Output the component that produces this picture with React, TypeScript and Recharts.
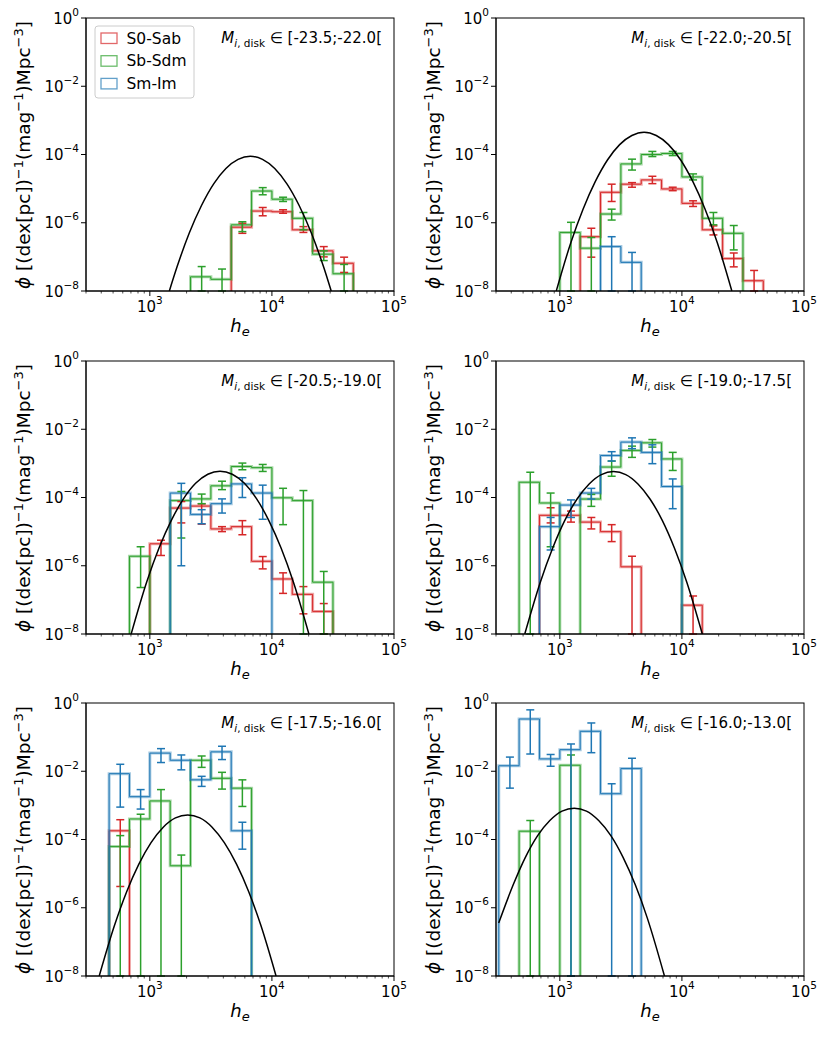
import React from 'react'
import { ComposedChart, Line, Scatter, ErrorBar, XAxis, YAxis } from 'recharts'

type Val = number | null
type Err = [number, number] | null

// bin edges, 1/6 dex wide
const EDGES = [316, 464, 681, 1000, 1468, 2154, 3162, 4642, 6813, 10000, 14678, 21544, 31623, 46416]
const X_MAJOR = [1000, 10000, 100000]
const X_MINOR = [
    300, 400, 500, 600, 700, 800, 900,
    2000, 3000, 4000, 5000, 6000, 7000, 8000, 9000,
    20000, 30000, 40000, 50000, 60000, 70000, 80000, 90000,
]
const Y_TICKS = [1e-8, 1e-6, 1e-4, 1e-2, 1]

const TYPES = ['S0-Sab', 'Sb-Sdm', 'Sm-Im']
const COLORS = ['#d62728', '#2ca02c', '#1f77b4']
const MAG_RANGES = ['[-23.5;-22.0[', '[-22.0;-20.5[', '[-20.5;-19.0[', '[-19.0;-17.5[', '[-17.5;-16.0[', '[-16.0;-13.0[']

const _ = null

// panel 1
const P1_RED: Val[] = [_, _, _, _, _, _, _, 7.4e-7, 2.2e-6, 2.1e-6, 6.2e-7, 1.5e-7, 6.5e-8]
const P1_RED_ERR: Err[] = [_, _, _, _, _, _, _, [4.9e-7, 9.7e-7], [1.6e-6, 2.8e-6], [1.9e-6, 2.4e-6], [5.2e-7, 7.7e-7], [1.0e-7, 2.0e-7], [3.5e-8, 9.8e-8]]
const P1_GREEN: Val[] = [_, _, _, _, _, 2.6e-8, 2.2e-8, 8.7e-7, 8.5e-6, 4.9e-6, 1.35e-6, 1.2e-7, 3.2e-8]
const P1_GREEN_ERR: Err[] = [_, _, _, _, _, [0, 5.2e-8], [0, 4.4e-8], [5.5e-7, 1.07e-6], [6.6e-6, 1.07e-5], [4.2e-6, 5.6e-6], [6.2e-7, 2.0e-6], [7.8e-8, 1.5e-7], [0, 6.0e-8]]
const P1_BLUE: Val[] = [_, _, _, _, _, _, _, _, _, _, _, _, _]
const P1_BLUE_ERR: Err[] = [_, _, _, _, _, _, _, _, _, _, _, _, _]
const P1_CURVE_H = [1445, 1671, 2104, 2649, 3334, 4198, 5284, 6653, 8375, 10544, 13274, 16711, 21038, 26485, 30590]
const P1_CURVE_PHI = [1e-8, 5.1e-8, 5.0e-7, 3.2e-6, 1.38e-5, 3.9e-5, 7.2e-5, 8.9e-5, 7.2e-5, 3.9e-5, 1.38e-5, 3.2e-6, 5.0e-7, 5.1e-8, 1e-8]

// panel 2
const P2_RED: Val[] = [_, _, _, _, 3.9e-7, 7.8e-6, 1.35e-5, 1.8e-5, 9.8e-6, 3.7e-6, 6.2e-7, 8.9e-8, 2e-8]
const P2_RED_ERR: Err[] = [_, _, _, _, [9.8e-8, 6.9e-7], [4.2e-6, 1.35e-5], [1.1e-5, 1.5e-5], [1.4e-5, 2.3e-5], [8.7e-6, 1.1e-5], [3.0e-6, 4.4e-6], [4.4e-7, 8.1e-7], [5.1e-8, 1.3e-7], [0, 4.0e-8]]
const P2_GREEN: Val[] = [_, _, _, 5.2e-7, 1.8e-7, 1.8e-6, 5.3e-5, 1.0e-4, 1.07e-4, 2.2e-5, 1.35e-6, 4.9e-7, _]
const P2_GREEN_ERR: Err[] = [_, _, _, [0, 1.03e-6], [0, 3.7e-7], [1.2e-6, 2.5e-6], [3.5e-5, 7.3e-5], [8.7e-5, 1.23e-4], [9.3e-5, 1.23e-4], [1.8e-5, 2.7e-5], [8.7e-7, 2.0e-6], [1.6e-7, 8.3e-7], _]
const P2_BLUE: Val[] = [_, _, _, _, _, 2e-7, 6.9e-8, _, _, _, _, _, _]
const P2_BLUE_ERR: Err[] = [_, _, _, _, _, [0, 3.9e-7], [0, 1.35e-7], _, _, _, _, _, _]
const P2_CURVE_H = [935, 1230, 1549, 1950, 2455, 3090, 3890, 4898, 6166, 7762, 9772, 12303, 15488, 19498, 25645]
const P2_CURVE_PHI = [1e-8, 2.6e-7, 2.5e-6, 1.6e-5, 6.9e-5, 1.95e-4, 3.6e-4, 4.5e-4, 3.6e-4, 1.95e-4, 6.9e-5, 1.6e-5, 2.5e-6, 2.6e-7, 1e-8]

// panel 3
const P3_RED: Val[] = [_, _, _, 4.4e-6, 4.9e-5, 5.6e-5, 1.2e-5, 1.4e-5, 1.35e-6, 4.1e-7, 1.45e-7, 4.6e-8, _]
const P3_RED_ERR: Err[] = [_, _, _, [2e-6, 5.6e-6], [1.8e-5, 7.6e-5], [1.66e-5, 6.5e-5], [1.0e-5, 1.4e-5], [8.1e-6, 2.1e-5], [8.1e-7, 1.86e-6], [1.55e-7, 6.2e-7], [3.9e-8, 2.45e-7], [0, 7.8e-8], _]
const P3_GREEN: Val[] = [_, _, 1.9e-6, _, 8.1e-5, 9.1e-5, 2.2e-4, 8.1e-4, 7.5e-4, 9.8e-5, 8.1e-5, 3.3e-7, _]
const P3_GREEN_ERR: Err[] = [_, _, [2.3e-7, 3.6e-6], _, [6.5e-6, 1.5e-4], [6.6e-5, 1.26e-4], [1.7e-4, 3.0e-4], [6.5e-4, 1.02e-3], [5.8e-4, 9.3e-4], [1.6e-5, 1.86e-4], [0, 1.6e-4], [0, 6.8e-7], _]
const P3_BLUE: Val[] = [_, _, _, _, 1.35e-4, 3.2e-5, 6.6e-5, 2.5e-4, 1.35e-4, _, _, _, _]
const P3_BLUE_ERR: Err[] = [_, _, _, _, [1.0e-6, 2.6e-4], [1.7e-5, 4.4e-5], [3.5e-5, 9.1e-5], [1.0e-4, 3.8e-4], [2.3e-5, 2.3e-4], _, _, _, _]
const P3_CURVE_H = [703, 944, 1189, 1496, 1884, 2371, 2985, 3758, 4732, 5957, 7499, 9441, 11885, 14962, 20090]
const P3_CURVE_PHI = [1e-8, 3.4e-7, 3.3e-6, 2.1e-5, 9.1e-5, 2.6e-4, 4.8e-4, 5.9e-4, 4.8e-4, 2.6e-4, 9.1e-5, 2.1e-5, 3.3e-6, 3.4e-7, 1e-8]

// panel 4
const P4_RED: Val[] = [_, _, 3e-5, 3e-5, 1.9e-5, 1.0e-5, 9.3e-7, _, _, 7e-8, _, _, _]
const P4_RED_ERR: Err[] = [_, _, [1.8e-5, 5e-5], [1.9e-5, 4e-5], [1.2e-5, 2.6e-5], [5.1e-6, 1.6e-5], [0, 1.9e-6], _, _, [0, 1.3e-7], _, _, _]
const P4_GREEN: Val[] = [_, 2.8e-4, 6.9e-5, _, 9e-5, 7.8e-4, 2.4e-3, 4e-3, 1.35e-3, _, _, _, _]
const P4_GREEN_ERR: Err[] = [_, [0, 5.5e-4], [3.6e-6, 1.35e-4], _, [5.5e-5, 1.23e-4], [4.2e-4, 1.17e-3], [1.5e-3, 3.2e-3], [3.0e-3, 5.0e-3], [6.2e-4, 2.1e-3], _, _, _, _]
const P4_BLUE: Val[] = [_, _, 1.4e-5, 6e-5, 1.35e-4, 1.7e-3, 4.2e-3, 2.1e-3, 2.1e-4, _, _, _, _]
const P4_BLUE_ERR: Err[] = [_, _, [2.9e-6, 2.6e-5], [2.6e-5, 8.5e-5], [9e-5, 1.85e-4], [1.17e-3, 2.2e-3], [2.7e-3, 5.6e-3], [9.8e-4, 3.5e-3], [4.7e-5, 3.5e-4], _, _, _, _]
const P4_CURVE_H = [516, 692, 871, 1096, 1380, 1738, 2188, 2754, 3467, 4365, 5495, 6918, 8710, 10965, 14690]
const P4_CURVE_PHI = [1e-8, 3.3e-7, 3.2e-6, 2.1e-5, 8.9e-5, 2.5e-4, 4.7e-4, 5.75e-4, 4.7e-4, 2.5e-4, 8.9e-5, 2.1e-5, 3.2e-6, 3.3e-7, 1e-8]

// panel 5
const P5_RED: Val[] = [_, 1.8e-4, _, _, _, _, _, _, _, _, _, _, _]
const P5_RED_ERR: Err[] = [_, [4.2e-6, 3.8e-4], _, _, _, _, _, _, _, _, _, _, _]
const P5_GREEN: Val[] = [_, 6.2e-5, 4e-4, 1.35e-3, 1.7e-5, 2.1e-2, 6.2e-3, 3.2e-3, _, _, _, _, _]
const P5_GREEN_ERR: Err[] = [_, [0, 1.3e-4], [0, 5.5e-4], [0, 2.9e-3], [0, 3.5e-5], [1.3e-2, 2.8e-2], [3e-3, 9.3e-3], [9.3e-4, 5.6e-3], _, _, _, _, _]
const P5_BLUE: Val[] = [_, 8.5e-3, 1.8e-3, 3.4e-2, 2.1e-2, 5.6e-3, 3.7e-2, 1.8e-4, _, _, _, _, _]
const P5_BLUE_ERR: Err[] = [_, [8.9e-4, 1.6e-2], [7.8e-4, 2.9e-3], [1.8e-2, 4.6e-2], [1.1e-2, 3.0e-2], [3.6e-3, 7.1e-3], [2.2e-2, 5.4e-2], [5.2e-5, 3.2e-4], _, _, _, _, _]
const P5_CURVE_H = [385, 513, 646, 813, 1023, 1288, 1622, 2042, 2570, 3236, 4074, 5129, 6457, 8128, 10810]
const P5_CURVE_PHI = [1e-8, 3.0e-7, 2.95e-6, 1.9e-5, 8.1e-5, 2.3e-4, 4.3e-4, 5.25e-4, 4.3e-4, 2.3e-4, 8.1e-5, 1.9e-5, 2.95e-6, 3.0e-7, 1e-8]

// panel 6
const P6_RED: Val[] = [_, _, _, _, _, _, _, _, _, _, _, _, _]
const P6_RED_ERR: Err[] = [_, _, _, _, _, _, _, _, _, _, _, _, _]
const P6_GREEN: Val[] = [_, 1.75e-4, _, 1.5e-2, _, _, _, _, _, _, _, _, _]
const P6_GREEN_ERR: Err[] = [_, [0, 3.6e-4], _, [0, 3.0e-2], _, _, _, _, _, _, _, _, _]
const P6_BLUE: Val[] = [1.45e-2, 0.34, 2.3e-2, 4.3e-2, 0.148, 2.2e-3, 1.2e-2, _, _, _, _, _, _]
const P6_BLUE_ERR: Err[] = [[3.2e-3, 2.6e-2], [3.2e-2, 0.63], [1.4e-2, 3.1e-2], [0, 6.3e-2], [3.5e-2, 0.26], [0, 4.3e-3], [0, 2.4e-2], _, _, _, _, _, _]
const P6_CURVE_H = [316, 415, 522, 658, 828, 1042, 1312, 1652, 2080, 2618, 3296, 4150, 5224, 7194]
const P6_CURVE_PHI = [3.6e-7, 4.7e-6, 3.0e-5, 1.3e-4, 3.6e-4, 6.8e-4, 8.3e-4, 6.8e-4, 3.6e-4, 1.3e-4, 3.0e-5, 4.7e-6, 4.8e-7, 1e-8]

const PANELS = [
    { values: [P1_RED, P1_GREEN, P1_BLUE], errs: [P1_RED_ERR, P1_GREEN_ERR, P1_BLUE_ERR], curveH: P1_CURVE_H, curvePhi: P1_CURVE_PHI },
    { values: [P2_RED, P2_GREEN, P2_BLUE], errs: [P2_RED_ERR, P2_GREEN_ERR, P2_BLUE_ERR], curveH: P2_CURVE_H, curvePhi: P2_CURVE_PHI },
    { values: [P3_RED, P3_GREEN, P3_BLUE], errs: [P3_RED_ERR, P3_GREEN_ERR, P3_BLUE_ERR], curveH: P3_CURVE_H, curvePhi: P3_CURVE_PHI },
    { values: [P4_RED, P4_GREEN, P4_BLUE], errs: [P4_RED_ERR, P4_GREEN_ERR, P4_BLUE_ERR], curveH: P4_CURVE_H, curvePhi: P4_CURVE_PHI },
    { values: [P5_RED, P5_GREEN, P5_BLUE], errs: [P5_RED_ERR, P5_GREEN_ERR, P5_BLUE_ERR], curveH: P5_CURVE_H, curvePhi: P5_CURVE_PHI },
    { values: [P6_RED, P6_GREEN, P6_BLUE], errs: [P6_RED_ERR, P6_GREEN_ERR, P6_BLUE_ERR], curveH: P6_CURVE_H, curvePhi: P6_CURVE_PHI },
]

const FONT = '"DejaVu Sans", sans-serif'
const FLOOR = 1e-8 // bottom of the y range
const ROW_TOP = [0, 343, 685]
const COL_LEFT = [0, 410]
// plot box inside each chart
const BOX = { left: 86, top: 18, width: 308, height: 273 }

// outline of a step histogram, one run per block of filled bins
function stepRuns(values: Val[]) {
    const runs: { x: number; y: number }[][] = []
    let run: { x: number; y: number }[] | null = null
    values.forEach((v, i) => {
        if (v == null) {
            if (run) { run.push({ x: EDGES[i], y: FLOOR }); runs.push(run); run = null }
            return
        }
        if (!run) run = [{ x: EDGES[i], y: FLOOR }]
        run.push({ x: EDGES[i], y: v }, { x: EDGES[i + 1], y: v })
    })
    if (run) { (run as any).push({ x: EDGES[values.length], y: FLOOR }); runs.push(run) }
    return runs
}

function errorPoints(values: Val[], errs: Err[]) {
    const pts: { x: number; y: number; err: [number, number] }[] = []
    values.forEach((v, i) => {
        const e = errs[i]
        if (v == null || !e) return
        const lo = Math.max(e[0], FLOOR)
        pts.push({ x: (EDGES[i] + EDGES[i + 1]) / 2, y: v, err: [v - lo, e[1] - v] })
    })
    return pts
}

const expLabel = (v: number) => {
    const e = Math.round(Math.log10(v))
    return e < 0 ? '\u2212' + -e : String(e)
}

function XTick(props: any) {
    const { x, y, payload } = props
    const major = X_MAJOR.includes(payload.value)
    return (
        <g>
            <line x1={x} y1={y} x2={x} y2={y + (major ? 5 : 2.5)} stroke="#000" strokeWidth={major ? 1 : 0.7} />
            {major && (
                <text x={x} y={y + 21} textAnchor="middle" fontSize={15} fontFamily={FONT} fill="#000">
                    10<tspan dy={-8} fontSize={10.5}>{expLabel(payload.value)}</tspan>
                </text>
            )}
        </g>
    )
}

function YTick(props: any) {
    const { x, y, payload } = props
    return (
        <g>
            <line x1={x - 5} y1={y} x2={x} y2={y} stroke="#000" />
            <text x={x - 7} y={y + 5.5} textAnchor="end" fontSize={15} fontFamily={FONT} fill="#000">
                10<tspan dy={-8} fontSize={10.5}>{expLabel(payload.value)}</tspan>
            </text>
        </g>
    )
}

const NoDot = () => <g />

function Panel({ index }: { index: number }) {
    const p = PANELS[index]
    const left = COL_LEFT[index % 2]
    const top = ROW_TOP[Math.floor(index / 2)]
    const curve = p.curveH.map((h, i) => ({ x: h, y: p.curvePhi[i] }))

    return (
        <div style={{ position: 'absolute', left, top }}>
            <ComposedChart width={410} height={340} margin={{ top: BOX.top, right: 410 - BOX.left - BOX.width, bottom: 340 - BOX.top - BOX.height - 1, left: BOX.left - 1 }}>
                <XAxis
                    dataKey="x"
                    type="number"
                    scale="log"
                    domain={[300, 100000]}
                    allowDataOverflow
                    ticks={[...X_MINOR, ...X_MAJOR]}
                    interval={0}
                    tick={XTick}
                    tickLine={false}
                    tickSize={0}
                    tickMargin={0}
                    height={1}
                    axisLine={{ stroke: '#000' }}
                />
                <YAxis
                    dataKey="y"
                    type="number"
                    scale="log"
                    domain={[1e-8, 1]}
                    allowDataOverflow
                    ticks={Y_TICKS}
                    interval={0}
                    tick={YTick}
                    tickLine={false}
                    tickSize={0}
                    tickMargin={0}
                    width={1}
                    axisLine={{ stroke: '#000' }}
                />

                {p.values.map((vals, s) =>
                    stepRuns(vals).flatMap((run, r) => [
                        <Line key={`halo-${s}-${r}`} data={run} dataKey="y" type="linear" stroke={COLORS[s]} strokeOpacity={0.4} strokeWidth={3} dot={false} isAnimationActive={false} />,
                        <Line key={`step-${s}-${r}`} data={run} dataKey="y" type="linear" stroke={COLORS[s]} strokeWidth={1} dot={false} isAnimationActive={false} />,
                    ])
                )}
                {p.values.map((vals, s) => (
                    <Scatter key={`err-${s}`} data={errorPoints(vals, p.errs[s])} dataKey="y" shape={NoDot} isAnimationActive={false}>
                        <ErrorBar dataKey="err" direction="y" width={4} stroke={COLORS[s]} strokeWidth={1.5} isAnimationActive={false} />
                    </Scatter>
                ))}
                <Line data={curve} dataKey="y" type="monotone" stroke="#000" strokeWidth={1.5} dot={false} isAnimationActive={false} />
            </ComposedChart>
        </div>
    )
}

function Labels() {
    return (
        <svg width={830} height={1038} style={{ position: 'absolute', left: 0, top: 0, pointerEvents: 'none' }} fontFamily={FONT}>
            {MAG_RANGES.map((range, i) => {
                const left = COL_LEFT[i % 2]
                const top = ROW_TOP[Math.floor(i / 2)]
                return (
                    <g key={range}>
                        <rect x={left + BOX.left} y={top + BOX.top} width={BOX.width} height={BOX.height} fill="none" stroke="#000" strokeWidth={1} />
                        <text x={left + 382} y={top + 43} textAnchor="end" fontSize={15} fill="#000">
                            <tspan fontStyle="italic">M</tspan>
                            <tspan dy={3.5} fontSize={10.5}><tspan fontStyle="italic">i</tspan>, disk</tspan>
                            <tspan dy={-3.5}>{' \u2208 '}{range}</tspan>
                        </text>
                        <text transform={`translate(${left + 30}, ${top + 155}) rotate(-90)`} textAnchor="middle" fontSize={18.5} fill="#000">
                            <tspan fontStyle="italic">ϕ</tspan>{' [(dex[pc])'}
                            <tspan dy={-7} fontSize={13}>{'\u22121'}</tspan>
                            <tspan dy={7}>(mag</tspan>
                            <tspan dy={-7} fontSize={13}>{'\u22121'}</tspan>
                            <tspan dy={7}>)Mpc</tspan>
                            <tspan dy={-7} fontSize={13}>{'\u22123'}</tspan>
                            <tspan dy={7}>]</tspan>
                        </text>
                        <text x={left + 240} y={top + 332} textAnchor="middle" fontSize={18} fontStyle="italic" fill="#000">
                            h<tspan dy={4} fontSize={13}>e</tspan>
                        </text>
                    </g>
                )
            })}
            <rect x={95} y={26} width={99} height={72} rx={3} fill="#fff" fillOpacity={0.8} stroke="#ccc" />
            {TYPES.map((t, i) => (
                <g key={t}>
                    <rect x={101} y={33 + i * 22.7} width={16} height={10.5} fill="none" stroke={COLORS[i]} strokeOpacity={0.7} strokeWidth={1.3} />
                    <text x={126.5} y={43.5 + i * 22.7} fontSize={15.5} fill="#000">{t}</text>
                </g>
            ))}
        </svg>
    )
}

export default function App() {
    return (
        <div style={{ position: 'absolute', left: 0, top: 0, width: 830, height: 1038, background: '#fff' }}>
            {PANELS.map((_p, i) => <Panel key={i} index={i} />)}
            <Labels />
        </div>
    )
}
